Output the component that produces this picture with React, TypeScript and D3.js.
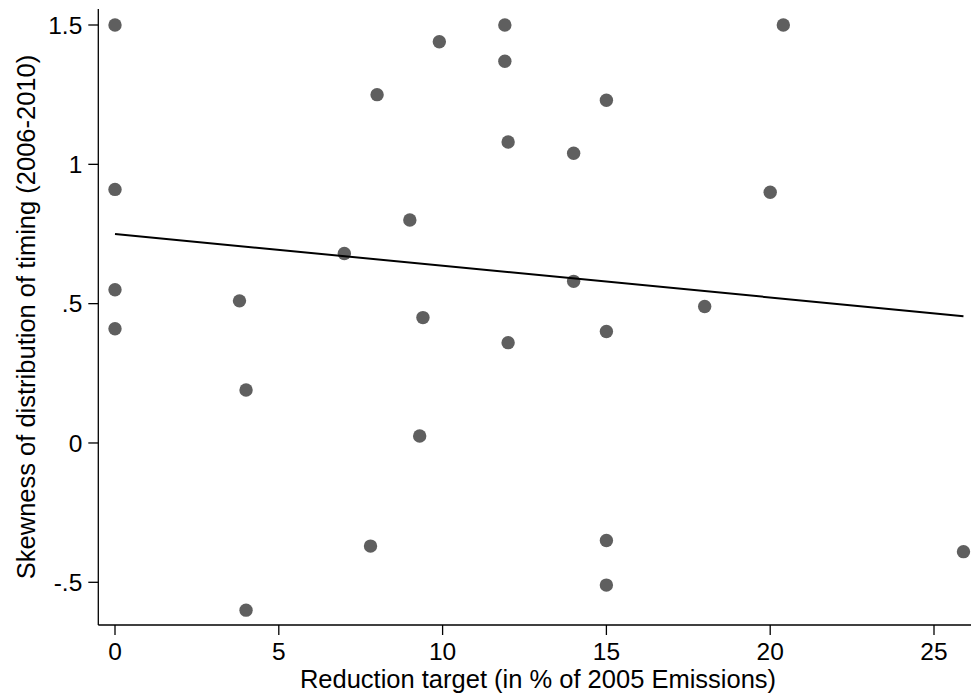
import React, { useEffect, useRef } from 'react';
import * as d3 from 'd3';

// reduction target (x) and skewness (y)
const targets = [0, 8.0, 0, 11.9, 9.9, 11.9, 15, 12, 14, 20.4, 20, 18, 7, 0, 3.8, 0, 4, 9, 14, 9.4, 12, 15, 9.3, 7.8, 4, 15, 15, 25.9];
const skewness = [1.5, 1.25, 0.91, 1.5, 1.44, 1.37, 1.23, 1.08, 1.04, 1.5, 0.9, 0.49, 0.68, 0.55, 0.51, 0.41, 0.19, 0.8, 0.58, 0.45, 0.36, 0.4, 0.025, -0.37, -0.6, -0.35, -0.51, -0.39];

// fitted line endpoints
const fitX = [0, 25.9];
const fitY = [0.75, 0.455];

const xTicks = [0, 5, 10, 15, 20, 25];
const yTicks = [-0.5, 0, 0.5, 1, 1.5];
const yTickLabels = ['-.5', '0', '.5', '1', '1.5'];

const App = () => {
  const svgRef = useRef(null);

  useEffect(() => {
    const svg = d3.select(svgRef.current);
    svg.selectAll('*').remove();

    const W = 971;
    const H = 697;
    const left = 98.3;
    const bottom = 625;
    const top = 9;
    const font = 'Liberation Sans, Arial, sans-serif';

    // x=0 at 115, x=25 at 934 ; y=1.5 at 25, y=-.5 at 582
    const x = d3.scaleLinear().domain([0, 25]).range([115, 934]);
    const y = d3.scaleLinear().domain([-0.5, 1.5]).range([582.3, 25]);

    svg.attr('width', W).attr('height', H);
    svg.append('rect').attr('width', W).attr('height', H).attr('fill', '#fff');

    // axes
    svg.append('line')
      .attr('x1', left).attr('x2', left)
      .attr('y1', top).attr('y2', bottom)
      .attr('stroke', '#000').attr('stroke-width', 1.3);
    svg.append('line')
      .attr('x1', left).attr('x2', W)
      .attr('y1', bottom).attr('y2', bottom)
      .attr('stroke', '#000').attr('stroke-width', 1.3);

    // y ticks
    yTicks.forEach((t, i) => {
      svg.append('line')
        .attr('x1', left - 10).attr('x2', left)
        .attr('y1', y(t)).attr('y2', y(t))
        .attr('stroke', '#000').attr('stroke-width', 1.3);
      svg.append('text')
        .attr('x', left - 16)
        .attr('y', y(t))
        .attr('dy', '0.36em')
        .attr('text-anchor', 'end')
        .attr('font-family', font)
        .attr('font-size', 24.5)
        .text(yTickLabels[i]);
    });

    // x ticks
    xTicks.forEach(t => {
      svg.append('line')
        .attr('x1', x(t)).attr('x2', x(t))
        .attr('y1', bottom).attr('y2', bottom + 10)
        .attr('stroke', '#000').attr('stroke-width', 1.3);
      svg.append('text')
        .attr('x', x(t))
        .attr('y', 659.5)
        .attr('text-anchor', 'middle')
        .attr('font-family', font)
        .attr('font-size', 24.5)
        .text(t);
    });

    // axis titles
    svg.append('text')
      .attr('x', 538)
      .attr('y', 688)
      .attr('text-anchor', 'middle')
      .attr('font-family', font)
      .attr('font-size', 25.5)
      .text('Reduction target (in % of 2005 Emissions)');

    svg.append('text')
      .attr('transform', `translate(35,${(top + bottom) / 2}) rotate(-90)`)
      .attr('text-anchor', 'middle')
      .attr('font-family', font)
      .attr('font-size', 25.5)
      .text('Skewness of distribution of timing (2006-2010)');

    // markers
    svg.append('g')
      .selectAll('circle')
      .data(targets.map((t, i) => ({ x: t, y: skewness[i] })))
      .join('circle')
      .attr('cx', d => x(d.x))
      .attr('cy', d => y(d.y))
      .attr('r', 6.7)
      .attr('fill', '#5f5f5f');

    // linear fit
    const line = d3.line()
      .x(d => x(d[0]))
      .y(d => y(d[1]));
    svg.append('path')
      .datum(fitX.map((v, i) => [v, fitY[i]]))
      .attr('fill', 'none')
      .attr('stroke', '#000')
      .attr('stroke-width', 2)
      .attr('d', line);
  }, []);

  return (
    <div style={{ position: 'absolute', left: 0, top: 0 }}>
      <svg ref={svgRef} style={{ display: 'block' }}></svg>
    </div>
  );
};

export default App;
